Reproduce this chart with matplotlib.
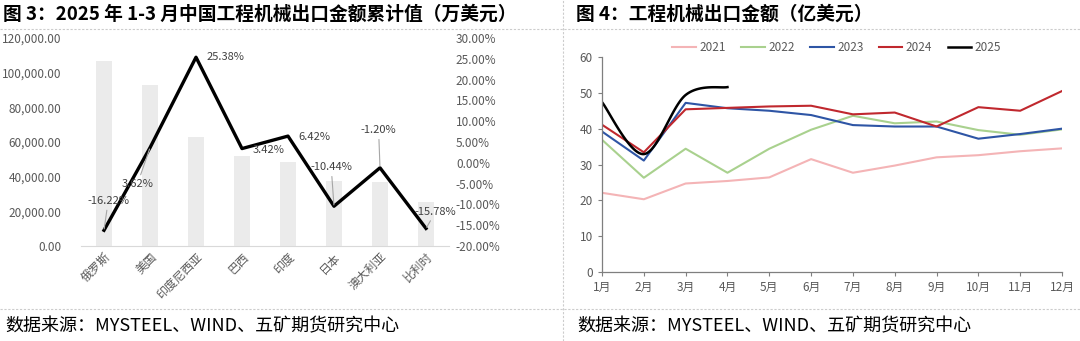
import numpy as np
import matplotlib
matplotlib.use("Agg")
import matplotlib.pyplot as plt
from matplotlib.lines import Line2D

plt.rcParams['font.family'] = ['Noto Sans CJK SC', 'DejaVu Sans']

# 图3 数据
countries = ['俄罗斯', '美国', '印度尼西亚', '巴西', '印度', '日本', '澳大利亚', '比利时']
export_value = [106700, 92900, 62900, 51900, 48500, 37500, 37000, 25400]   # 万美元
yoy = [-16.22, 3.62, 25.38, 3.42, 6.42, -10.44, -1.20, -15.78]            # %

# 图4 数据
months = ['1月', '2月', '3月', '4月', '5月', '6月', '7月', '8月', '9月', '10月', '11月', '12月']
y2021 = [22.1, 20.3, 24.7, 25.4, 26.4, 31.5, 27.7, 29.7, 32.0, 32.6, 33.7, 34.5]
y2022 = [36.9, 26.3, 34.4, 27.7, 34.4, 39.7, 43.6, 41.5, 42.0, 39.6, 38.3, 39.8]
y2023 = [39.2, 31.1, 47.2, 45.7, 45.0, 43.8, 41.0, 40.6, 40.6, 37.2, 38.5, 40.0]
y2024 = [41.1, 33.4, 45.4, 45.8, 46.2, 46.4, 44.0, 44.5, 40.6, 46.0, 45.0, 50.5]
y2025 = [47.4, 32.9, 49.4, 51.6]

W, H = 1080, 341
fig = plt.figure(figsize=(W / 100, H / 100), dpi=100)


def px_axes(x0, y0, x1, y1):
    # 像素坐标 (左上为原点) -> figure 坐标
    return fig.add_axes([x0 / W, 1 - y1 / H, (x1 - x0) / W, (y1 - y0) / H])


tick_col = '#595959'

# ---------- 图3 ----------
ax = px_axes(81, 38, 449, 246)
x = np.arange(len(countries))
ax.bar(x, export_value, width=0.33, color='#ebebeb', zorder=1)
ax.set_xlim(-0.5, len(countries) - 0.5)
ax.set_ylim(0, 120000)
ax.set_yticks(np.arange(0, 120001, 20000))
ax.set_yticklabels([f'{v:,.2f}' for v in np.arange(0, 120001, 20000)])
ax.set_xticks(x)
ax.set_xticklabels(countries, rotation=45, ha='right', rotation_mode='anchor')
for s in ['top', 'right', 'left']:
    ax.spines[s].set_visible(False)
ax.spines['bottom'].set_color('#d9d9d9')
ax.tick_params(axis='y', length=0, pad=14, labelsize=8.5, labelcolor=tick_col)
ax.tick_params(axis='x', length=0, pad=3, labelsize=8.5, labelcolor=tick_col)

ax2 = ax.twinx()
ax2.set_ylim(-20, 30)
ax2.set_yticks(np.arange(-20, 31, 5))
ax2.set_yticklabels([f'{v:.2f}%' for v in np.arange(-20, 31, 5)])
ax2.tick_params(axis='y', length=0, pad=5, labelsize=8.5, labelcolor=tick_col)
for s in ax2.spines.values():
    s.set_visible(False)
ax2.plot(x, yoy, color='black', lw=2.4, zorder=3)

offsets = [(3, 21), (-9, -26), (21, 0), (19, -1), (19, -1), (-2, 28), (-1, 27), (7, 12)]
leaders = [True, True, False, False, False, True, True, True]
for i, v in enumerate(yoy):
    kw = dict(arrowprops=dict(arrowstyle='-', color='#a6a6a6', lw=0.8, shrinkA=1, shrinkB=1)) if leaders[i] else {}
    ax2.annotate(f'{v:.2f}%', (x[i], v), xytext=offsets[i], textcoords='offset points',
                 ha='center', va='center', fontsize=8, color='#404040', zorder=4, **kw)

# ---------- 图4 ----------
bx = px_axes(602, 57, 1062, 272)
m = np.arange(12)
bx.plot(m, y2021, color='#f4b4b6', lw=1.5, label='2021')
bx.plot(m, y2022, color='#a9d18e', lw=1.5, label='2022')
bx.plot(m, y2023, color='#2e55a5', lw=1.5, label='2023')
bx.plot(m, y2024, color='#c0282e', lw=1.5, label='2024')


def smooth(xs, ys, n=40):
    # 类似 Excel 平滑线的贝塞尔曲线
    p = np.column_stack([xs, ys]).astype(float)
    out = []
    for i in range(len(p) - 1):
        p0, p1, p2 = p[max(i - 1, 0)], p[i], p[i + 1]
        p3 = p[min(i + 2, len(p) - 1)]
        c1 = p1 + (p2 - p0) / 6
        c2 = p2 - (p3 - p1) / 6
        t = np.linspace(0, 1, n)[:, None]
        seg = (1 - t) ** 3 * p1 + 3 * (1 - t) ** 2 * t * c1 + 3 * (1 - t) * t ** 2 * c2 + t ** 3 * p2
        out.append(seg)
    out = np.vstack(out)
    return out[:, 0], out[:, 1]


sx, sy = smooth(np.arange(len(y2025)), y2025)
bx.plot(sx, sy, color='black', lw=1.8, label='2025')

bx.set_xlim(0, 11)
bx.set_ylim(0, 60)
bx.set_yticks(np.arange(0, 61, 10))
bx.set_xticks(m)
bx.set_xticklabels(months)
for s in ['top', 'right']:
    bx.spines[s].set_visible(False)
for s in ['left', 'bottom']:
    bx.spines[s].set_color('#7f7f7f')
    bx.spines[s].set_linewidth(0.9)
bx.tick_params(direction='out', length=3, width=0.8, color='#7f7f7f', labelsize=8.5, labelcolor=tick_col)
bx.legend(loc='lower center', bbox_to_anchor=(0.51, 0.965), ncol=5, frameon=False, fontsize=8.5,
          handlelength=2.0, columnspacing=1.3, handletextpad=0.3, labelcolor=tick_col)

# ---------- 标题/来源/分隔线 ----------
fig.text(3 / W, 1 - 14 / H, '图 3：2025 年 1-3 月中国工程机械出口金额累计值（万美元）',
         fontsize=13.5, fontweight='bold', va='center', ha='left')
fig.text(576 / W, 1 - 14 / H, '图 4：工程机械出口金额（亿美元）',
         fontsize=13.5, fontweight='bold', va='center', ha='left')
src = '数据来源：MYSTEEL、WIND、五矿期货研究中心'
fig.text(5 / W, 1 - 326 / H, src, fontsize=13, va='center', ha='left')
fig.text(577 / W, 1 - 326 / H, src, fontsize=13, va='center', ha='left')

dash = dict(color='#cccccc', lw=0.8, linestyle=(0, (2, 1.5)), transform=fig.transFigure)
fig.add_artist(Line2D([0, 1], [1 - 29 / H, 1 - 29 / H], **dash))
fig.add_artist(Line2D([0, 1], [1 - 309 / H, 1 - 309 / H], **dash))
fig.add_artist(Line2D([563 / W, 563 / W], [0, 1], **dash))

fig.savefig('out.png', dpi=100)
